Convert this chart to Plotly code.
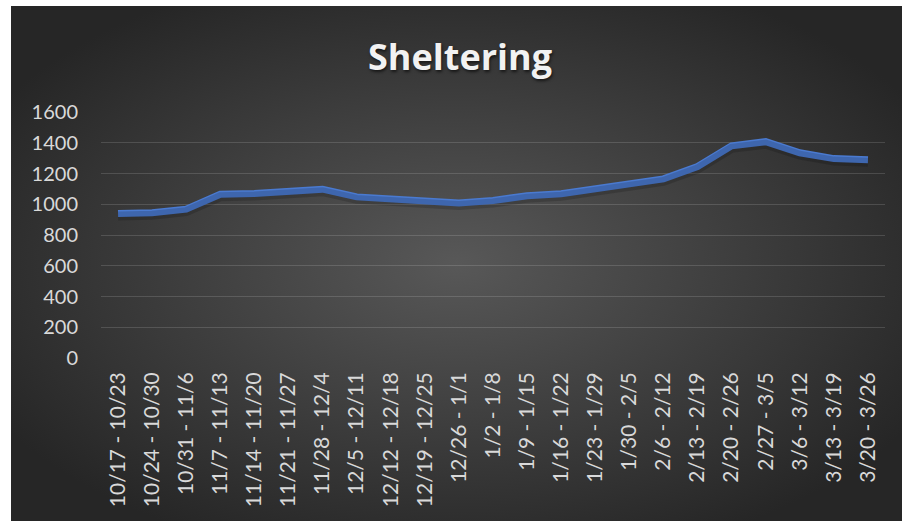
import plotly.graph_objects as go
import base64

categories = ["10/17 - 10/23", "10/24 - 10/30", "10/31 - 11/6", "11/7 - 11/13", "11/14 - 11/20",
              "11/21 - 11/27", "11/28 - 12/4", "12/5 - 12/11", "12/12 - 12/18", "12/19 - 12/25",
              "12/26 - 1/1", "1/2 - 1/8", "1/9 - 1/15", "1/16 - 1/22", "1/23 - 1/29", "1/30 - 2/5",
              "2/6 - 2/12", "2/13 - 2/19", "2/20 - 2/26", "2/27 - 3/5", "3/6 - 3/12", "3/13 - 3/19",
              "3/20 - 3/26"]
sheltering = [940, 945, 968, 1065, 1070, 1088, 1098, 1048, 1035, 1020, 1008, 1025, 1055, 1068,
              1098, 1128, 1165, 1245, 1380, 1407, 1335, 1297, 1290]
y_ticks = [0, 200, 400, 600, 800, 1000, 1200, 1400, 1600]

W, H = 902, 521
L, R, T, B = 101, 17, 112, 163
pw, ph = W - L - R, H - T - B

svg = ('<svg xmlns="http://www.w3.org/2000/svg" width="891" height="515" viewBox="0 0 891 515" preserveAspectRatio="none">'
       '<defs><radialGradient id="g" cx="50%" cy="50%" r="60%">'
       '<stop offset="0%" stop-color="#585858"/><stop offset="100%" stop-color="#262626"/>'
       '</radialGradient></defs><rect width="891" height="515" fill="url(#g)"/></svg>')
src = "data:image/svg+xml;base64," + base64.b64encode(svg.encode()).decode()

def px_to_paper_x(px):
    return (px - L) / pw

def px_to_paper_y(py):
    return (H - B - py) / ph

fig = go.Figure()
shadow_shift = 2.5 * 1600 / ph
fig.add_trace(go.Scatter(x=categories, y=sheltering, mode="lines", yaxis="y2",
                         line=dict(color="rgba(0,0,0,0.16)", width=9), hoverinfo="skip",
                         showlegend=False))
fig.add_trace(go.Scatter(x=categories, y=sheltering, mode="lines",
                         line=dict(color="#4a7ad0", width=7), name="Sheltering",
                         showlegend=False))

fig.update_layout(
    width=W, height=H,
    margin=dict(l=L, r=R, t=T, b=B),
    paper_bgcolor="white",
    plot_bgcolor="rgba(0,0,0,0)",
    title=dict(text="<b>Sheltering</b>", x=0.51, xanchor="center", y=1 - 57 / H, yanchor="middle",
               font=dict(family="Open Sans", size=36, color="#f2f2f2",
                         shadow="1px 2px 3px rgba(0,0,0,0.6)")),
    xaxis=dict(tickangle=-90, tickfont=dict(family="Lato", size=21, color="#d9d9d9"),
               showgrid=False, showline=False, zeroline=False, ticks="",
               ticklabelstandoff=9,
               range=[-0.5, len(categories) - 0.5]),
    yaxis=dict(range=[0, 1600], tickvals=y_ticks, tickfont=dict(family="Lato", size=20, color="#d9d9d9"),
               gridcolor="rgba(255,255,255,0.14)", gridwidth=1, zeroline=False, showline=False,
               ticklabelstandoff=22),
    yaxis2=dict(range=[shadow_shift, 1600 + shadow_shift], overlaying="y", visible=False),
    images=[dict(source=src, xref="paper", yref="paper",
                 x=px_to_paper_x(11), y=px_to_paper_y(6),
                 sizex=(W - 11) / pw, sizey=(H - 6) / ph,
                 xanchor="left", yanchor="top", sizing="stretch", layer="below")],
)

fig.write_html("out.html", config={"displayModeBar": False},
               post_script="document.body.style.margin='0';document.body.style.overflow='hidden';")
